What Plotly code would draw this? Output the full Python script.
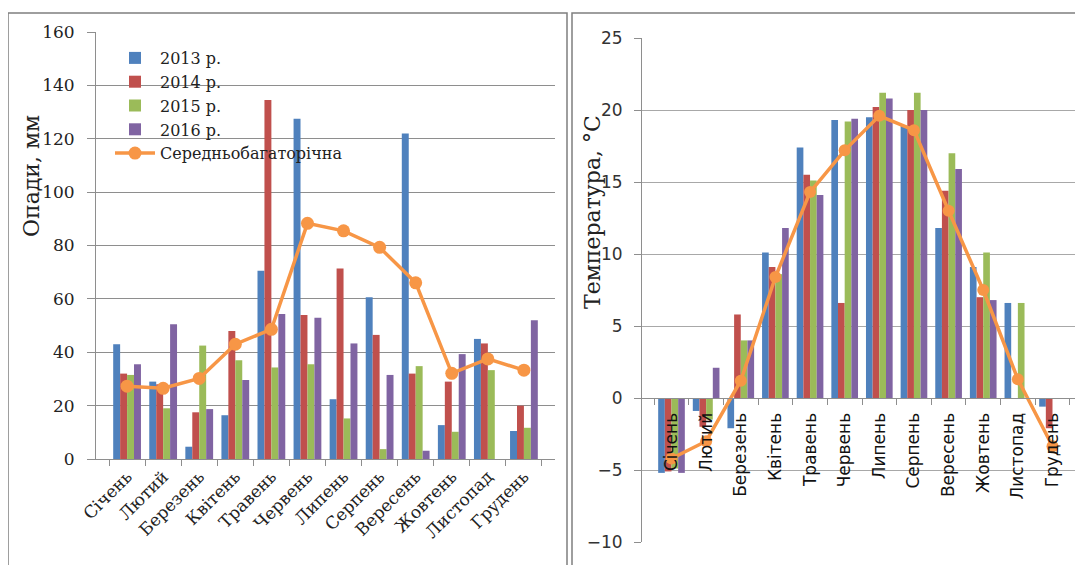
import plotly.graph_objects as go

months = ["Січень", "Лютий", "Березень", "Квітень", "Травень", "Червень",
          "Липень", "Серпень", "Вересень", "Жовтень", "Листопад", "Грудень"]
series_names = ["2013 р.", "2014 р.", "2015 р.", "2016 р."]
mean_name = "Середньобагаторічна"

precip_2013 = [43, 29, 4.6, 16.4, 70.5, 127.5, 22.4, 60.6, 122, 12.7, 45, 10.5]
precip_2014 = [32, 28, 17.5, 48, 134.5, 54, 71.4, 46.5, 32, 29, 43.3, 20]
precip_2015 = [31.5, 19, 42.5, 37, 34.3, 35.5, 15.2, 3.7, 34.8, 10.2, 33.3, 11.7]
precip_2016 = [35.5, 50.5, 18.7, 29.6, 54.3, 52.9, 43.3, 31.5, 3.1, 39.3, None, 52]
precip_mean = [27.3, 26.5, 30.2, 43, 48.6, 88.3, 85.5, 79.3, 66, 32.1, 37.5, 33.3]

temp_2013 = [-5.2, -0.9, -2.1, 10.1, 17.4, 19.3, 19.5, 18.9, 11.8, 9.1, 6.6, -0.6]
temp_2014 = [-5.1, -2.0, 5.8, 9.1, 15.5, 6.6, 20.2, 20.0, 14.4, 7.0, None, -2.1]
temp_2015 = [-4.9, -1.5, 4.0, 8.6, 15.1, 19.2, 21.2, 21.2, 17.0, 10.1, 6.6, None]
temp_2016 = [-5.2, 2.1, 4.0, 11.8, 14.1, 19.4, 20.8, 20.0, 15.9, 6.8, None, None]
temp_mean = [-4.2, -3.0, 1.2, 8.4, 14.3, 17.2, 19.6, 18.6, 13.0, 7.5, 1.3, -3.35]

colors = ["#4F81BD", "#C0504D", "#9BBB59", "#8064A2"]
orange = "#F79646"

# page body has an 8px margin; figure is placed at (8, 8)
OFF = 8
W, H = 1083 - OFF, 565 - OFF
SERIF = "DejaVu Serif"
SANS = "DejaVu Sans"


def px(x):
    return (x - OFF) / W


def py(y):
    return (H - (y - OFF)) / H


fig = go.Figure()

precip = [precip_2013, precip_2014, precip_2015, precip_2016]
temps = [temp_2013, temp_2014, temp_2015, temp_2016]

for name, vals, c in zip(series_names, precip, colors):
    fig.add_trace(go.Bar(x=months, y=vals, name=name, marker=dict(color=c, line=dict(width=0)),
                         xaxis="x", yaxis="y", legendgroup=name))
fig.add_trace(go.Scatter(x=months, y=precip_mean, name=mean_name, mode="lines+markers",
                         line=dict(color=orange, width=3.5), marker=dict(color=orange, size=13),
                         xaxis="x", yaxis="y"))

for name, vals, c in zip(series_names, temps, colors):
    fig.add_trace(go.Bar(x=months, y=vals, name=name, marker=dict(color=c, line=dict(width=0)),
                         xaxis="x2", yaxis="y2", showlegend=False, legendgroup=name))
fig.add_trace(go.Scatter(x=months, y=temp_mean, name=mean_name, mode="lines+markers",
                         line=dict(color=orange, width=3.5), marker=dict(color=orange, size=12),
                         xaxis="x2", yaxis="y2", showlegend=False))

# domains (reference pixel positions)
lx0, lx1 = px(96), px(555)
ly0, ly1 = py(459), py(32)
rx0, rx1 = px(642), px(1082)
ry0, ry1 = py(542), py(38)
zero_pos = ry0 + (ry1 - ry0) * 10 / 35

grid = "#8E8E8E"

fig.update_layout(
    width=W, height=H,
    margin=dict(l=0, r=0, t=0, b=0, autoexpand=False),
    paper_bgcolor="white", plot_bgcolor="rgba(0,0,0,0)",
    barmode="group", bargap=0.23, bargroupgap=0,
    showlegend=True,
    legend=dict(x=px(110), y=py(41), xanchor="left", yanchor="top",
                font=dict(family=SERIF, size=16, color="#222"),
                bgcolor="rgba(255,255,255,0)", tracegroupgap=0, itemwidth=40),
    xaxis=dict(domain=[lx0, lx1], anchor="y", type="category", automargin=False,
               tickangle=-45, tickfont=dict(family=SERIF, size=17, color="#222"),
               ticks="outside", tickson="boundaries", ticklen=6, tickcolor=grid,
               showline=True, linecolor=grid, linewidth=1, showgrid=False),
    yaxis=dict(domain=[ly0, ly1], anchor="x", range=[0, 160], dtick=20, automargin=False,
               tickfont=dict(family=SERIF, size=17, color="#222"),
               ticks="outside", ticklen=8, tickcolor=grid, ticklabelstandoff=9,
               showline=True, linecolor=grid, linewidth=1,
               showgrid=True, gridcolor=grid, gridwidth=1, zeroline=False),
    xaxis2=dict(domain=[rx0, rx1], anchor="free", position=zero_pos, type="category",
                automargin=False,
                tickangle=-90, tickfont=dict(family=SANS, size=17, color="#111"),
                ticks="outside", tickson="boundaries", ticklen=6, tickcolor=grid,
                ticklabelstandoff=7,
                showline=True, linecolor=grid, linewidth=1, showgrid=False),
    yaxis2=dict(domain=[ry0, ry1], anchor="x2", range=[-10, 25], dtick=5, automargin=False,
                tickfont=dict(family=SANS, size=17, color="#333"),
                ticks="outside", ticklen=7, tickcolor=grid, ticklabelstandoff=8,
                showline=True, linecolor=grid, linewidth=1,
                showgrid=True, gridcolor="#A8A8A8", gridwidth=1, zeroline=False),
    annotations=[
        dict(text="Опади, мм", x=px(31), y=py(176), xref="paper", yref="paper",
             xanchor="center", yanchor="middle",
             textangle=-90, showarrow=False, font=dict(family=SERIF, size=22, color="#222")),
        dict(text="Температура, °С", x=px(592), y=py(212), xref="paper", yref="paper",
             xanchor="center", yanchor="middle",
             textangle=-90, showarrow=False, font=dict(family=SERIF, size=22, color="#222")),
    ],
    shapes=[
        dict(type="rect", xref="paper", yref="paper", x0=px(8), x1=px(567),
             y0=-0.05, y1=py(13), line=dict(color="#7F7F7F", width=1.5)),
        dict(type="rect", xref="paper", yref="paper", x0=px(572), x1=1.05,
             y0=-0.05, y1=py(13), line=dict(color="#7F7F7F", width=1.5)),
    ],
)

fig.write_html("out.html")
